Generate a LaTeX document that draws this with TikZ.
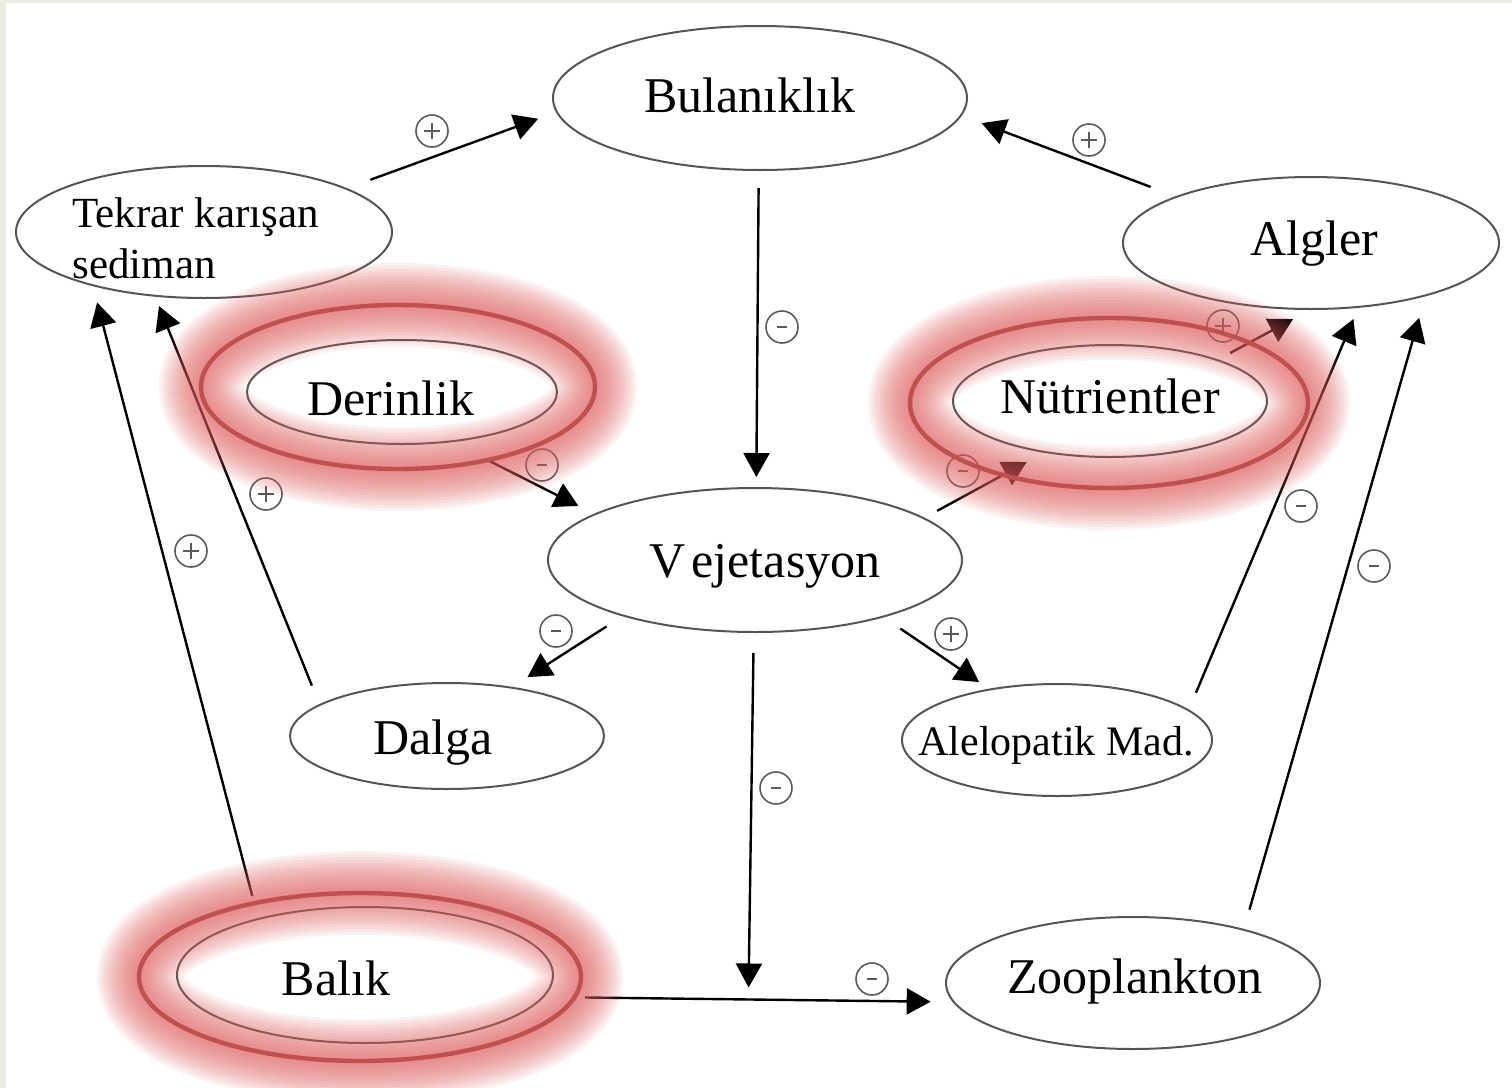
\documentclass[tikz,border=0pt]{standalone}
\usepackage{fontspec}
\setmainfont{Liberation Serif}
\usetikzlibrary{arrows.meta,shapes.geometric}

\definecolor{edgegray}{RGB}{85,85,85}
\definecolor{signgray}{RGB}{90,90,90}
\definecolor{ringred}{RGB}{192,80,77}
\definecolor{glowred}{RGB}{226,92,92}
\definecolor{framebeige}{RGB}{236,236,222}

% highlighted ellipse: soft red glow plus a solid red ring
% #1,#2 centre (px), #3,#4 radii (pt)
\newcommand\glowring[4]{%
  \foreach \w in {3,6,...,42}{%
    \draw[glowred, line width=\w pt, draw opacity=0.08]
      (#1,#2) ellipse [x radius=#3pt, y radius=#4pt];}
  \draw[ringred, line width=2.2pt] (#1,#2) ellipse [x radius=#3pt, y radius=#4pt];}

\begin{document}
\begin{tikzpicture}[x=0.5pt, y=-0.5pt,
  bub/.style={ellipse, draw=edgegray, line width=1pt, fill=white, inner sep=0pt},
  lbl/.style={anchor=base, inner sep=0pt, font=\fontsize{25}{30}\selectfont},
  smalllbl/.style={anchor=base west, inner sep=0pt, font=\fontsize{21.5}{25}\selectfont},
  link/.style={draw=black, line width=1.2pt, -{Triangle[length=12pt,width=13pt]}},
  sgn/.style={circle, draw=signgray, line width=0.8pt, minimum size=16pt, inner sep=0pt},
  sgnplus/.style={sgn, path picture={
      \draw[signgray, line width=0.9pt]
        ([xshift=-4pt]path picture bounding box.center) -- ([xshift=4pt]path picture bounding box.center)
        ([yshift=-4pt]path picture bounding box.center) -- ([yshift=4pt]path picture bounding box.center);}},
  sgnminus/.style={sgn, path picture={
      \draw[signgray, line width=1pt]
        ([xshift=-2.5pt]path picture bounding box.center) -- ([xshift=2.5pt]path picture bounding box.center);}}
]
% page
\fill[white] (0,0) rectangle (1512,1088);
\fill[framebeige] (0,0) rectangle (1512,3);
\fill[framebeige] (0,0) rectangle (6,1088);
\useasboundingbox (0,0) rectangle (1512,1088);

% factors
\node[bub, minimum width=207pt, minimum height=72pt] (bul) at (760,98) {};
\node[lbl] (bulT) at (750,112) {Bulanıklık};

\node[bub, minimum width=188pt, minimum height=66pt] (tek) at (204,232) {};
\node[smalllbl] (tekT1) at (72,227) {Tekrar karışan};
\node[smalllbl] (tekT2) at (72,278) {sediman};

\node[bub, minimum width=188pt, minimum height=66pt] (alg) at (1311,243) {};
\node[lbl] (algT) at (1314,255) {Algler};

\node[bub, minimum width=155pt, minimum height=52pt] (der) at (402,392) {};
\node[lbl] (derT) at (391,415) {Derinlik};

\node[bub, minimum width=157pt, minimum height=56pt] (nut) at (1110,401) {};
\node[lbl] (nutT) at (1110,413) {Nütrientler};

\node[bub, minimum width=207pt, minimum height=72pt] (veg) at (755,560) {};
\node[lbl] (vegT) at (765,577) {V\kern3pt ejetasyon};

\node[bub, minimum width=157pt, minimum height=53pt] (dal) at (447,736) {};
\node[lbl] (dalT) at (433,754) {Dalga};

\node[bub, minimum width=155pt, minimum height=56pt] (ale) at (1057,740) {};
\node[lbl, font=\fontsize{21}{25}\selectfont] (aleT) at (1056,755) {Alelopatik Mad.};

\node[bub, minimum width=188pt, minimum height=68pt] (bal) at (365,975) {};
\node[lbl] (balT) at (336,995) {Balık};

\node[bub, minimum width=187pt, minimum height=66pt] (zoo) at (1133,983) {};
\node[lbl] (zooT) at (1135,993) {Zooplankton};

% effects
\draw[link, shorten <=12.4pt, shorten >=9.5pt] (tek.17.3) -- (bul.184.4);
\draw[link, shorten <=13.3pt, shorten >=10.6pt] (alg.161.5) -- (bul.-5.3);
\draw[link, shorten <=8.5pt, shorten >=5pt] (bul.-91.3) -- (veg.89.3);
\draw[link, shorten <=20.3pt, shorten >=8.7pt] (der.-45.3) -- (veg.164.4);
\draw[link, shorten <=7.2pt, shorten >=9.7pt] (veg.14.8) -- (nut.218.8);
\draw[link, shorten <=6.8pt, shorten >=9.5pt] (nut.21.6) -- (alg.269);
\draw[link, shorten <=9.5pt, shorten >=9pt] (veg.203.1) -- (dal.37.1);
\draw[link, shorten <=10pt, shorten >=5.9pt] (veg.-24.2) -- (ale.143.1);
\draw[link, shorten <=20.5pt, shorten >=11pt] (bal.-7.2) -- coordinate[pos=0.5] (mid) (zoo.186.1);
\draw[link, shorten <=10pt, shorten >=6pt] (veg.-91.2) -- (mid);
\draw[link, shorten <=10pt, shorten >=5pt] (dal.166.1) -- (tek.233.2);
\draw[link, shorten <=11.4pt, shorten >=8.4pt] (bal.152.2) -- (tek.206.2);
\draw[link, shorten <=9.1pt, shorten >=6pt] (ale.13.6) -- (alg.-54.5);
\draw[link, shorten <=10pt, shorten >=11.2pt] (zoo.26.4) -- (alg.-25.9);

% signs
\node[sgnplus]  (s1)  at (432,131) {};
\node[sgnplus]  (s2)  at (1089,140) {};
\node[sgnminus] (s3)  at (782,327) {};
\node[sgnminus] (s4)  at (542,465) {};
\node[sgnminus] (s5)  at (963,471) {};
\node[sgnplus]  (s6)  at (1223,326) {};
\node[sgnminus] (s7)  at (556,631) {};
\node[sgnplus]  (s8)  at (951,634) {};
\node[sgnminus] (s9)  at (776,788) {};
\node[sgnminus] (s10) at (872,979) {};
\node[sgnplus]  (s11) at (266,494) {};
\node[sgnplus]  (s12) at (191,551) {};
\node[sgnminus] (s13) at (1301,506) {};
\node[sgnminus] (s14) at (1374,566) {};

% highlighted factors
\glowring{398}{387}{98.5}{41}
\glowring{1109}{403}{99.5}{42.5}
\glowring{360}{977}{110.5}{42}
\end{tikzpicture}
\end{document}
